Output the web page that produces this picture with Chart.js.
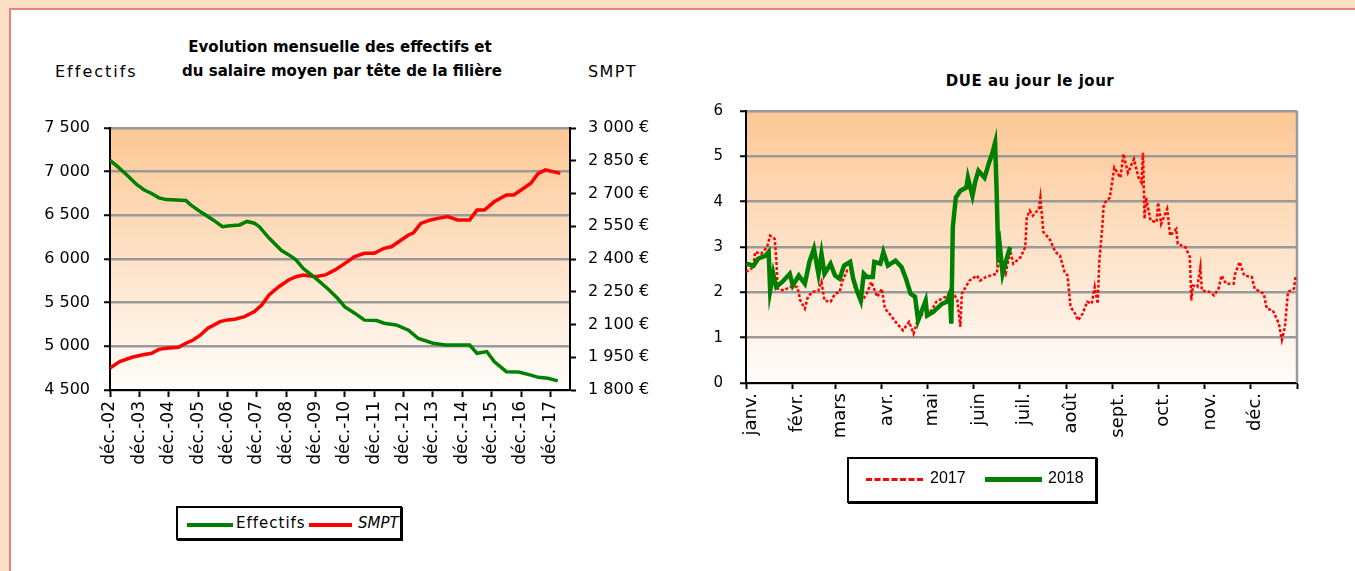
<!DOCTYPE html>
<html lang="fr">
<head>
<meta charset="utf-8">
<title>Effectifs, SMPT et DUE</title>
<script src="https://cdn.jsdelivr.net/npm/chart.js@4.4.1/dist/chart.umd.min.js"></script>
<style>
  body {
    margin: 0;
    width: 1355px;
    height: 571px;
    overflow: hidden;
    position: relative;
    background: #fddfc4;
    font-family: "DejaVu Sans", sans-serif;
  }
  #panel {
    position: absolute;
    left: 9px;
    top: 8px;
    width: 1400px;
    height: 600px;
    background: #fff;
    border-left: 2px solid #e08585;
    border-top: 2px solid #e08585;
  }
  .txt { position: absolute; white-space: nowrap; color: #000; }
  .title { font-weight: bold; font-size: 15px; text-align: center; transform: translateX(-50%); }
  canvas { position: absolute; }
  .legend {
    position: absolute;
    background: #fff;
    border: 2px solid #000;
    box-shadow: 1px 1px 0 #000;
    box-sizing: border-box;
  }
  .legend .item { position: absolute; white-space: nowrap; }
  .legend .swatch { position: absolute; }
</style>
</head>
<body>
<div id="panel"></div>

<div class="txt title" style="left:340px; top:38px;">Evolution mensuelle des effectifs et</div>
<div class="txt title" style="left:342px; top:62px;">du salaire moyen par tête de la filière</div>
<div class="txt" style="left:55px; top:62px; font-size:16px; letter-spacing:2px;">Effectifs</div>
<div class="txt" style="left:588px; top:62px; font-size:16px; letter-spacing:1.4px;">SMPT</div>
<div class="txt title" style="left:1030px; top:72px; letter-spacing:0.5px;">DUE au jour le jour</div>

<canvas id="leftChart" width="700" height="400" style="left:0; top:90px;"></canvas>
<canvas id="rightChart" width="665" height="385" style="left:690px; top:85px;"></canvas>

<div class="legend" style="left:176px; top:506px; width:226px; height:34px;">
  <div class="swatch" style="left:9px; top:15px; width:46px; border-top:4px solid #008000;"></div>
  <div class="item" style="left:58px; top:6px; font-size:15px; letter-spacing:1px;">Effectifs</div>
  <div class="swatch" style="left:131px; top:15px; width:43px; border-top:4px solid #ff0000;"></div>
  <div class="item" style="left:180px; top:6px; font-size:15px; font-style:italic;">SMPT</div>
</div>

<div class="legend" style="left:847px; top:457px; width:250px; height:46px;">
  <div class="swatch" style="left:17px; top:19px; width:57px; border-top:3px dashed #ff0000;"></div>
  <div class="item" style="left:81px; top:10px; font-size:16px; font-family:'Liberation Sans',sans-serif;">2017</div>
  <div class="swatch" style="left:136px; top:18px; width:57px; border-top:5px solid #008000;"></div>
  <div class="item" style="left:199px; top:10px; font-size:16px; font-family:'Liberation Sans',sans-serif;">2018</div>
</div>

<script>
// ---------------- DATA : effectifs et SMPT (mois depuis déc. 2002) ----------------
const yearTickMonths = [0, 12, 24, 36, 48, 60, 72, 84, 96, 108, 120, 132, 144, 156, 168, 180];
const yearTickLabels = ["déc.-02", "déc.-03", "déc.-04", "déc.-05", "déc.-06", "déc.-07", "déc.-08", "déc.-09",
  "déc.-10", "déc.-11", "déc.-12", "déc.-13", "déc.-14", "déc.-15", "déc.-16", "déc.-17"];

const effMonths = [0, 3, 7, 11, 14, 17, 20, 23, 31, 33, 37, 42, 46, 49, 53, 56, 59, 61, 65, 70, 74, 76, 79, 84,
  89, 93, 96, 100, 104, 109, 112, 117, 122, 126, 132, 137, 147, 150, 154, 157, 162, 167, 172, 175, 179, 183];
const effValues = [7130, 7060, 6960, 6850, 6790, 6750, 6700, 6680, 6670, 6620, 6540, 6450, 6370, 6380, 6390,
  6430, 6410, 6370, 6240, 6100, 6030, 5990, 5890, 5780, 5660, 5550, 5450, 5380, 5300, 5295, 5265, 5245, 5185,
  5090, 5035, 5015, 5015, 4920, 4940, 4825, 4710, 4705, 4670, 4645, 4635, 4605];

const smptMonths = [0, 4, 9, 13, 17, 20, 23, 28, 31, 34, 37, 40, 45, 48, 51, 55, 59, 62, 65, 69, 73, 76, 79, 84,
  88, 92, 96, 100, 104, 108, 112, 115, 119, 122, 124, 127, 131, 134, 138, 142, 147, 150, 153, 157, 162, 165,
  168, 172, 175, 178, 181, 184];
const smptValues = [1900, 1930, 1950, 1960, 1968, 1986, 1991, 1996, 2014, 2029, 2052, 2083, 2113, 2121, 2124,
  2136, 2159, 2189, 2235, 2273, 2304, 2319, 2327, 2319, 2327, 2350, 2380, 2411, 2426, 2426, 2449, 2456, 2487,
  2510, 2520, 2563, 2579, 2586, 2594, 2579, 2579, 2624, 2624, 2662, 2693, 2693, 2716, 2747, 2792, 2808, 2800, 2792];

// ---------------- DATA : DUE au jour le jour (jour de l'année) ----------------
const monthStartDays = [0, 31, 59, 90, 120, 151, 181, 212, 243, 273, 304, 334, 365];
const monthLabels = ["janv.", "févr.", "mars", "avr.", "mai", "juin", "juil.", "août", "sept.", "oct.", "nov.", "déc.", ""];

const days2017 = [0, 5, 6, 10, 14, 16, 19, 20, 21, 25, 29, 34, 36, 39, 41, 44, 48, 50, 52, 56, 59, 62, 64, 67,
  70, 72, 77, 80, 83, 87, 90, 92, 95, 100, 104, 108, 111, 113, 117, 123, 126, 132, 137, 140, 142, 143, 148, 153,
  155, 159, 166, 168, 172, 175, 177, 182, 185, 186, 188, 190, 194, 195, 197, 201, 205, 208, 211, 213, 215, 218,
  220, 223, 226, 229, 231, 233, 234, 236, 237, 241, 244, 248, 250, 253, 257, 260, 262, 263, 264, 265, 268, 272,
  273, 275, 279, 281, 285, 286, 291, 294, 295, 296, 299, 301, 302, 307, 310, 313, 315, 318, 323, 324, 327, 330,
  335, 337, 343, 345, 349, 353, 355, 357, 359, 363, 364];
const due2017 = [2.45, 2.56, 2.89, 2.85, 3.0, 3.25, 3.18, 2.78, 2.08, 2.04, 2.12, 2.12, 1.82, 1.64, 1.9, 2.01,
  2.04, 2.23, 1.82, 1.79, 1.97, 2.01, 2.26, 2.48, 2.45, 2.12, 1.82, 1.97, 2.23, 1.9, 2.08, 1.64, 1.53, 1.31,
  1.16, 1.35, 1.09, 1.31, 1.53, 1.6, 1.79, 1.9, 2.01, 1.82, 1.24, 1.97, 2.26, 2.37, 2.26, 2.34, 2.41, 2.74,
  2.41, 2.92, 2.63, 2.78, 3.0, 3.66, 3.8, 3.69, 3.84, 4.09, 3.33, 3.18, 2.89, 2.81, 2.45, 2.37, 1.68, 1.53,
  1.38, 1.53, 1.79, 1.75, 2.12, 1.75, 2.67, 3.44, 3.95, 4.09, 4.75, 4.53, 5.05, 4.64, 4.94, 4.53, 4.42, 5.08,
  3.62, 4.09, 3.58, 3.55, 3.98, 3.51, 3.84, 3.25, 3.4, 3.07, 3.0, 2.78, 1.82, 2.15, 2.12, 2.56, 2.04, 2.01,
  1.93, 2.08, 2.37, 2.19, 2.19, 2.41, 2.67, 2.37, 2.34, 2.08, 1.97, 1.64, 1.6, 1.31, 0.95, 1.24, 2.01, 2.08, 2.34];

const days2018 = [0, 5, 8, 13, 15, 16, 18, 20, 24, 29, 31, 35, 39, 42, 45, 48, 50, 52, 56, 59, 62, 65, 69, 71,
  73, 76, 78, 80, 84, 85, 89, 91, 94, 99, 103, 106, 109, 112, 114, 119, 120, 124, 130, 133, 135, 136, 137, 139,
  142, 146, 147, 150, 152, 154, 158, 161, 163, 165, 166, 167, 168, 170, 173, 175];
const due2018 = [2.63, 2.59, 2.74, 2.81, 2.89, 2.04, 2.42, 2.12, 2.23, 2.41, 2.15, 2.37, 2.19, 2.67, 2.96, 2.41,
  2.85, 2.41, 2.63, 2.37, 2.3, 2.59, 2.67, 2.3, 2.08, 1.82, 2.41, 2.34, 2.34, 2.67, 2.63, 2.89, 2.59, 2.7, 2.56,
  2.3, 1.97, 1.9, 1.38, 1.82, 1.49, 1.57, 1.75, 1.79, 1.97, 1.31, 3.44, 4.09, 4.24, 4.31, 4.53, 4.13, 4.46, 4.68,
  4.53, 4.86, 5.05, 5.3, 4.28, 2.92, 3.07, 2.41, 2.78, 3.0];

// ---------------- HELPERS ----------------
const toPoints = (xs, ys) => xs.map((x, i) => ({ x, y: ys[i] }));
const withSpaces = v => String(v).replace(/\B(?=(\d{3})+$)/g, " ");

const GRID_GREY = "#9a9a9a";

// fond dégradé orange -> blanc de la zone de tracé
const plotBackground = {
  id: "plotBackground",
  beforeDraw(chart) {
    const { ctx, chartArea } = chart;
    const { left, top, right, bottom } = chartArea;
    const g = ctx.createLinearGradient(0, top, 0, bottom);
    g.addColorStop(0, "#fcc794");
    g.addColorStop(1, "#fffdfb");
    ctx.save();
    ctx.fillStyle = g;
    ctx.fillRect(left, top, right - left, bottom - top);
    ctx.restore();
  }
};

// bord droit gris du graphique DUE
const rightEdge = {
  id: "rightEdge",
  beforeDatasetsDraw(chart) {
    const { ctx, chartArea } = chart;
    ctx.save();
    ctx.strokeStyle = GRID_GREY;
    ctx.lineWidth = 2.5;
    ctx.beginPath();
    ctx.moveTo(chartArea.right, chartArea.top);
    ctx.lineTo(chartArea.right, chartArea.bottom);
    ctx.stroke();
    ctx.restore();
  }
};

Chart.defaults.font.family = "'DejaVu Sans', sans-serif";
Chart.defaults.color = "#000";

// ---------------- LEFT CHART ----------------
new Chart(document.getElementById("leftChart"), {
  type: "line",
  data: {
    datasets: [
      {
        label: "Effectifs",
        data: toPoints(effMonths, effValues),
        yAxisID: "y",
        borderColor: "#008000",
        borderWidth: 3.5,
        pointRadius: 0,
        tension: 0
      },
      {
        label: "SMPT",
        data: toPoints(smptMonths, smptValues),
        yAxisID: "y2",
        borderColor: "#ff0000",
        borderWidth: 3.5,
        pointRadius: 0,
        tension: 0
      }
    ]
  },
  options: {
    responsive: false,
    animation: false,
    events: [],
    layout: { autoPadding: false, padding: { top: 38, left: 0, right: 0, bottom: 0 } },
    plugins: { legend: { display: false }, tooltip: { enabled: false } },
    scales: {
      x: {
        type: "linear",
        min: 0,
        max: 188,
        afterBuildTicks: axis => { axis.ticks = yearTickMonths.map(v => ({ value: v })); },
        afterFit: axis => { axis.height = 100; },
        ticks: {
          autoSkip: false,
          minRotation: 90,
          maxRotation: 90,
          padding: 4,
          font: { size: 17 },
          callback: (v, i) => yearTickLabels[i]
        },
        grid: { drawOnChartArea: false, tickLength: 7, tickColor: "#000", tickWidth: 2 },
        border: { color: "#000", width: 2 }
      },
      y: {
        position: "left",
        min: 4500,
        max: 7500,
        afterFit: axis => { axis.width = 110; },
        ticks: { stepSize: 500, padding: 14, font: { size: 16 }, callback: v => withSpaces(v) },
        grid: { color: GRID_GREY, lineWidth: 2.5, tickLength: 6, tickColor: "#000", tickWidth: 2 },
        border: { color: "#000", width: 2 }
      },
      y2: {
        position: "right",
        min: 1800,
        max: 3000,
        afterFit: axis => { axis.width = 130; },
        ticks: { stepSize: 150, padding: 12, font: { size: 16 }, callback: v => withSpaces(v) + " €" },
        grid: { drawOnChartArea: false, tickLength: 6, tickColor: "#000", tickWidth: 2 },
        border: { color: "#000", width: 2 }
      }
    }
  },
  plugins: [plotBackground]
});

// ---------------- RIGHT CHART ----------------
new Chart(document.getElementById("rightChart"), {
  type: "line",
  data: {
    datasets: [
      {
        label: "2017",
        data: toPoints(days2017, due2017),
        borderColor: "#ff0000",
        borderWidth: 2.5,
        borderDash: [3, 2],
        pointRadius: 0,
        tension: 0,
        order: 1
      },
      {
        label: "2018",
        data: toPoints(days2018, due2018),
        borderColor: "#008000",
        borderWidth: 4.5,
        pointRadius: 0,
        tension: 0,
        order: 0
      }
    ]
  },
  options: {
    responsive: false,
    animation: false,
    events: [],
    layout: { autoPadding: false, padding: { top: 15, left: 0, right: 58, bottom: 0 } },
    plugins: { legend: { display: false }, tooltip: { enabled: false } },
    scales: {
      x: {
        type: "linear",
        min: 0,
        max: 365,
        afterBuildTicks: axis => { axis.ticks = monthStartDays.map(v => ({ value: v })); },
        afterFit: axis => { axis.height = 87; },
        ticks: {
          autoSkip: false,
          minRotation: 90,
          maxRotation: 90,
          padding: 4,
          labelOffset: 5,
          font: { size: 18 },
          callback: (v, i) => monthLabels[i]
        },
        grid: { drawOnChartArea: false, tickLength: 6, tickColor: "#000", tickWidth: 2 },
        border: { color: "#000", width: 2 }
      },
      y: {
        min: 0,
        max: 6,
        afterFit: axis => { axis.width = 56; },
        ticks: { stepSize: 1, padding: 17, font: { size: 15 } },
        grid: { color: GRID_GREY, lineWidth: 2.5, tickLength: 6, tickColor: "#000", tickWidth: 2 },
        border: { color: "#000", width: 2 }
      }
    }
  },
  plugins: [plotBackground, rightEdge]
});
</script>
</body>
</html>
